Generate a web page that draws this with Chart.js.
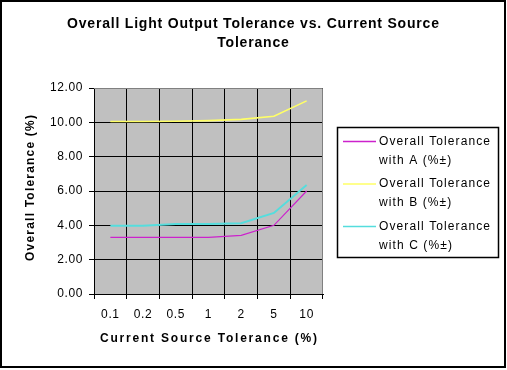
<!DOCTYPE html>
<html>
<head>
<meta charset="utf-8">
<script src="https://cdn.jsdelivr.net/npm/chart.js@4.4.1/dist/chart.umd.min.js"></script>
<style>
  html, body { margin: 0; padding: 0; background: #fff; }
  #wrap { width: 507px; height: 370px; position: relative; }
</style>
</head>
<body>
<div id="wrap"><canvas id="c" width="507" height="370"></canvas></div>
<script>
// ---- data ----
const categories = ['0.1', '0.2', '0.5', '1', '2', '5', '10'];
const seriesA = [3.3, 3.3, 3.3, 3.3, 3.42, 4.0, 6.0];
const seriesB = [10.05, 10.05, 10.06, 10.1, 10.17, 10.35, 11.25];
const seriesC = [3.98, 3.98, 4.08, 4.08, 4.12, 4.72, 6.35];
const seriesLabels = [
  ['Overall Tolerance', 'with A (%\u00b1)'],
  ['Overall Tolerance', 'with B (%\u00b1)'],
  ['Overall Tolerance', 'with C (%\u00b1)']
];
const titleLines = ['Overall Light Output Tolerance vs. Current Source', 'Tolerance'];
const xTitle = 'Current Source Tolerance (%)';
const yTitle = 'Overall Tolerance (%)';
const yMin = 0, yMax = 12, yStep = 2;

const FONT = '"Liberation Sans", Arial, sans-serif';

function centeredText(ctx, text, x, y) {
  // center text accounting for trailing letter spacing
  const w = ctx.measureText(text).width;
  const ls = parseFloat(ctx.letterSpacing) || 0;
  ctx.textAlign = 'left';
  ctx.fillText(text, x - (w - ls) / 2, y);
}

const framePlugin = {
  id: 'frame',
  beforeDraw(chart) {
    const ctx = chart.ctx;
    const a = chart.chartArea;
    ctx.save();
    ctx.fillStyle = '#fff';
    ctx.fillRect(0, 0, chart.width, chart.height);
    ctx.fillStyle = '#c0c0c0';
    ctx.fillRect(a.left, a.top, a.right - a.left, a.bottom - a.top);
    ctx.restore();
    ctx.letterSpacing = '0.6px';
  },
  afterDraw(chart) {
    const ctx = chart.ctx;
    const a = chart.chartArea;
    ctx.save();
    // plot area top/right border
    ctx.strokeStyle = '#808080';
    ctx.lineWidth = 1;
    ctx.beginPath();
    ctx.moveTo(a.left, a.top + 0.5);
    ctx.lineTo(a.right - 0.5, a.top + 0.5);
    ctx.lineTo(a.right - 0.5, a.bottom);
    ctx.stroke();

    ctx.fillStyle = '#000';
    ctx.textBaseline = 'middle';

    // title
    ctx.font = 'bold 14px ' + FONT;
    ctx.letterSpacing = '0.8px';
    centeredText(ctx, titleLines[0], 253, 24);
    centeredText(ctx, titleLines[1], 253, 43);

    // axis titles
    ctx.font = 'bold 12px ' + FONT;
    ctx.letterSpacing = '1.8px';
    centeredText(ctx, xTitle, (a.left + a.right) / 2, 339);
    ctx.save();
    ctx.translate(31, 188);
    ctx.rotate(-Math.PI / 2);
    ctx.letterSpacing = '1.2px';
    centeredText(ctx, yTitle, 0, 0);
    ctx.restore();

    // legend
    ctx.letterSpacing = '1.1px';
    ctx.strokeStyle = '#000';
    ctx.lineWidth = 1.5;
    ctx.strokeRect(337.5, 127.5, 161, 130);
    ctx.font = '12px ' + FONT;
    ctx.textAlign = 'left';
    const ys = [141.5, 184, 226.5];
    chart.data.datasets.forEach((ds, i) => {
      ctx.strokeStyle = ds.borderColor;
      ctx.lineWidth = 1.3;
      ctx.beginPath();
      ctx.moveTo(343, ys[i]);
      ctx.lineTo(376, ys[i]);
      ctx.stroke();
      ctx.fillStyle = '#000';
      ds.label.forEach((t, j) => ctx.fillText(t, 379, ys[i] + j * 19));
    });

    // outer border
    ctx.strokeStyle = '#000';
    ctx.lineWidth = 2;
    ctx.strokeRect(1, 1, 504, 366);
    ctx.restore();
  }
};

new Chart(document.getElementById('c'), {
  type: 'line',
  data: {
    labels: categories,
    datasets: [
      { label: seriesLabels[0], data: seriesA, borderColor: '#cc22cc', borderWidth: 1.2 },
      { label: seriesLabels[1], data: seriesB, borderColor: '#ffff66', borderWidth: 1.6 },
      { label: seriesLabels[2], data: seriesC, borderColor: '#55dddd', borderWidth: 2 }
    ].map(d => Object.assign(d, { pointRadius: 0, tension: 0, fill: false }))
  },
  options: {
    responsive: false,
    animation: false,
    devicePixelRatio: 1,
    layout: { padding: { top: 88, right: 184, bottom: 0, left: 0 } },
    plugins: {
      legend: { display: false },
      title: { display: false },
      tooltip: { enabled: false }
    },
    scales: {
      x: {
        type: 'category',
        offset: true,
        grid: {
          offset: true,
          color: (c) => (c.index === categories.length ? 'rgba(0,0,0,0)' : '#000'),
          lineWidth: 1,
          drawTicks: true,
          tickLength: 5,
          tickColor: '#000'
        },
        border: { display: true, color: '#000', width: 1 },
        ticks: { color: '#000', font: { family: FONT, size: 12 }, padding: 8, maxRotation: 0 },
        title: { display: false },
        afterFit(s) { s.height = 76; }
      },
      y: {
        min: yMin, max: yMax,
        grid: {
          color: (c) => (c.tick && c.tick.value === yMax ? 'rgba(0,0,0,0)' : '#000'),
          lineWidth: 1,
          tickLength: 5,
          tickColor: '#000'
        },
        border: { display: true, color: '#000', width: 1 },
        ticks: {
          stepSize: yStep, color: '#000', padding: 6,
          font: { family: FONT, size: 12 },
          callback: (v) => Number(v).toFixed(2)
        },
        title: { display: false },
        afterFit(s) { s.width = 94; }
      }
    }
  },
  plugins: [framePlugin]
});
</script>
</body>
</html>
